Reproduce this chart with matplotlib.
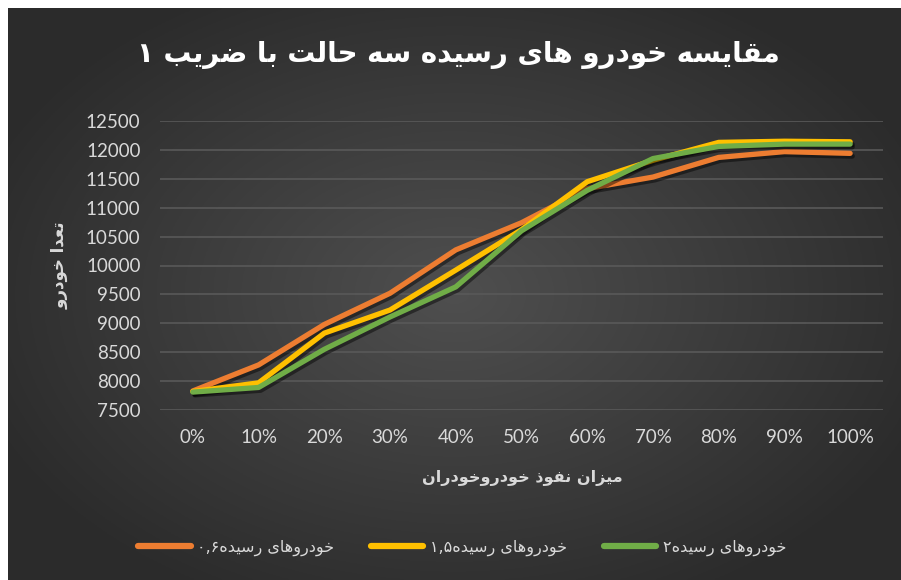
import re
import numpy as np
import matplotlib.pyplot as plt
import matplotlib.patheffects as pe

plt.rcParams['font.family'] = ['DejaVu Sans']

# data
percent = ['0%', '10%', '20%', '30%', '40%', '50%', '60%', '70%', '80%', '90%', '100%']
cars_06 = [7830, 8280, 8980, 9520, 10270, 10740, 11330, 11530, 11870, 11970, 11940]
cars_15 = [7820, 7970, 8830, 9230, 9920, 10620, 11450, 11820, 12130, 12150, 12140]
cars_2 = [7810, 7890, 8550, 9110, 9630, 10600, 11300, 11850, 12060, 12100, 12100]
labels = ['خودروهای رسیده۰,۶', 'خودروهای رسیده۱,۵', 'خودروهای رسیده۲']
colors = ['#ED7D31', '#FFC000', '#70AD47']

title = 'مقایسه خودرو های رسیده سه حالت با ضریب ۱'
xlabel = 'میزان نفوذ خودروخودران'
ylabel = 'تعدا خودرو'

# minimal arabic/persian shaping (isolated, final, initial, medial)
FORMS = {
    'ا': (0xFE8D, 0xFE8E, None, None),
    'ب': (0xFE8F, 0xFE90, 0xFE91, 0xFE92),
    'ت': (0xFE95, 0xFE96, 0xFE97, 0xFE98),
    'ح': (0xFEA1, 0xFEA2, 0xFEA3, 0xFEA4),
    'خ': (0xFEA5, 0xFEA6, 0xFEA7, 0xFEA8),
    'د': (0xFEA9, 0xFEAA, None, None),
    'ذ': (0xFEAB, 0xFEAC, None, None),
    'ر': (0xFEAD, 0xFEAE, None, None),
    'ز': (0xFEAF, 0xFEB0, None, None),
    'س': (0xFEB1, 0xFEB2, 0xFEB3, 0xFEB4),
    'ض': (0xFEBD, 0xFEBE, 0xFEBF, 0xFEC0),
    'ع': (0xFEC9, 0xFECA, 0xFECB, 0xFECC),
    'ف': (0xFED1, 0xFED2, 0xFED3, 0xFED4),
    'ق': (0xFED5, 0xFED6, 0xFED7, 0xFED8),
    'ل': (0xFEDD, 0xFEDE, 0xFEDF, 0xFEE0),
    'م': (0xFEE1, 0xFEE2, 0xFEE3, 0xFEE4),
    'ن': (0xFEE5, 0xFEE6, 0xFEE7, 0xFEE8),
    'ه': (0xFEE9, 0xFEEA, 0xFEEB, 0xFEEC),
    'و': (0xFEED, 0xFEEE, None, None),
    'ی': (0xFEEF, 0xFEF0, 0xFEF3, 0xFEF4),
}


def shape(s):
    out = []
    for i, c in enumerate(s):
        if c not in FORMS:
            out.append(c)
            continue
        prev = s[i - 1] if i > 0 else ''
        nxt = s[i + 1] if i + 1 < len(s) else ''
        join_prev = prev in FORMS and FORMS[prev][2] is not None
        join_next = FORMS[c][2] is not None and nxt in FORMS
        iso, fin, ini, med = FORMS[c]
        if join_prev and join_next:
            out.append(chr(med))
        elif join_prev:
            out.append(chr(fin))
        elif join_next:
            out.append(chr(ini))
        else:
            out.append(chr(iso))
    vis = ''.join(out)[::-1]
    # numbers stay left to right
    return re.sub(r'[0-9۰-۹,]+', lambda m: m.group(0)[::-1], vis)


fig = plt.figure(figsize=(9.01, 5.80), dpi=100)
fig.patch.set_facecolor('white')

# dark radial background
bg = fig.add_axes([8 / 901, 0, 893 / 901, 572 / 580])
yy, xx = np.mgrid[-1:1:300j, -1:1:460j]
r = np.sqrt((xx * 0.95) ** 2 + (yy * 0.9) ** 2)
shade = np.clip(0.31 - 0.13 * r, 0.17, 0.31)
bg.imshow(np.dstack([shade] * 3), aspect='auto', extent=[0, 1, 0, 1])
bg.set_axis_off()

ax = fig.add_axes([160 / 901, 1 - 410 / 580, 723 / 901, 289 / 580])
ax.patch.set_alpha(0)
x = np.arange(len(percent))
shadow = [pe.SimpleLineShadow(offset=(1.5, -2), shadow_color='black', alpha=0.45),
          pe.Normal()]
for vals, c, lab in zip([cars_06, cars_15, cars_2], colors, labels):
    ax.plot(x, vals, color=c, lw=3.8, solid_capstyle='round',
            label=shape(lab), path_effects=shadow, zorder=3)

ax.set_xlim(-0.5, len(percent) - 0.5)
ax.set_ylim(7500, 12500)
ax.set_yticks(range(7500, 12501, 500))
ax.set_xticks(x)
ax.set_xticklabels(percent)
ax.grid(axis='y', color='#595959', lw=1.2)
ax.set_axisbelow(True)
for s in ax.spines.values():
    s.set_visible(False)
ax.tick_params(length=0, colors='#d9d9d9', labelsize=13.5, pad=14)
for t in ax.get_xticklabels() + ax.get_yticklabels():
    t.set_family('Lato')

fig.text(458 / 901, 1 - 55 / 580, shape(title), color='white', fontsize=20,
         ha='center', va='center', fontweight='bold')
fig.text(522 / 901, 1 - 478 / 580, shape(xlabel), color='#d9d9d9', fontsize=11.5,
         ha='center', va='center', fontweight='bold')
fig.text(60 / 901, 1 - 265 / 580, shape(ylabel), color='#d9d9d9', fontsize=12,
         ha='center', va='center', rotation=90, fontweight='bold')

leg = fig.legend(loc='center', bbox_to_anchor=(462 / 901, 1 - 548 / 580), ncol=3,
                 frameon=False, fontsize=11.5, handlelength=3.3, columnspacing=2.3,
                 handletextpad=0.4)
for t in leg.get_texts():
    t.set_color('#d9d9d9')
for h in leg.get_lines():
    h.set_linewidth(4.5)
    h.set_path_effects([])

plt.savefig('out.png', dpi=100, facecolor=fig.get_facecolor())
